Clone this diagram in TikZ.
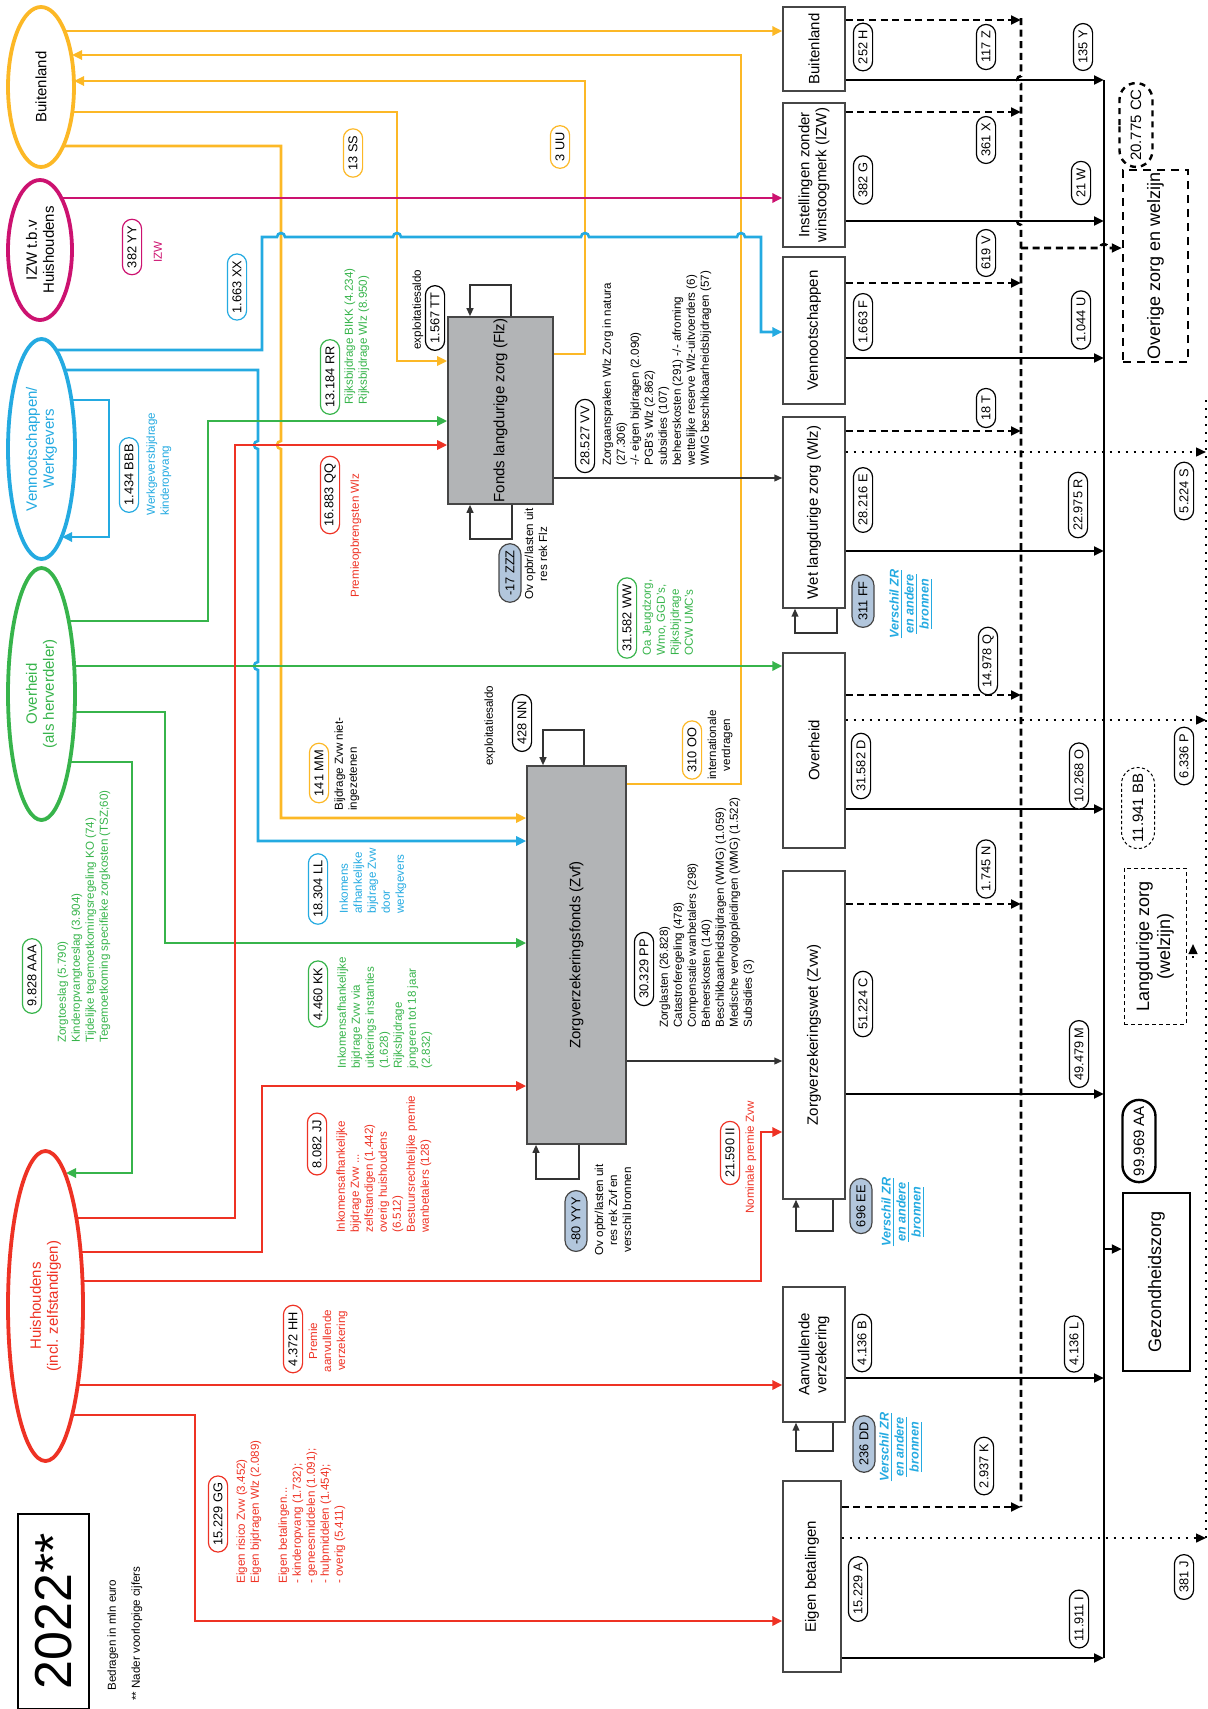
\documentclass[tikz,border=0pt]{standalone}
\usepackage{fontspec}
\setmainfont{Liberation Sans}
\usepackage{tikz}
\usetikzlibrary{arrows.meta,
	positioning,
	shapes.geometric,
	shapes.misc,
	backgrounds}

\definecolor{zOrange}{RGB}{252,184,38}
\definecolor{zMagenta}{RGB}{204,18,112}
\definecolor{zBlue}{RGB}{36,170,225}
\definecolor{zGreen}{RGB}{55,180,75}
\definecolor{zRed}{RGB}{238,50,36}
\definecolor{zGrey}{RGB}{178,180,182}
\definecolor{zPill}{RGB}{178,198,220}
\definecolor{zFrame}{RGB}{70,70,70}

\tikzset{
	every node/.style={font=\fontsize{5.8}{7}\selectfont},
	party/.style={ellipse, draw=#1, line width=1.9pt, fill=white, inner sep=0pt},
	fund/.style={draw=zFrame, fill=zGrey, line width=0.8pt, inner sep=0pt},
	sector/.style={draw=zFrame, fill=white, line width=0.7pt, inner sep=0pt},
	vlabel/.style={rotate=90, align=center, inner sep=0pt, font=\fontsize{7.5}{8.5}\selectfont},
	biglabel/.style={rotate=90, align=center, inner sep=0pt, font=\fontsize{9}{10.5}\selectfont},
	amount/.style={rounded rectangle, draw=#1, fill=white, rotate=90, line width=0.6pt,
		minimum height=9.6pt, inner xsep=2.8pt, inner ysep=0pt, font=\fontsize{6.4}{7}\selectfont},
	amount/.default=black,
	bigamount/.style={amount, minimum height=16.5pt, inner xsep=2.6pt, font=\fontsize{7.5}{9}\selectfont},
	diff/.style={amount, fill=zPill, draw=zFrame, minimum height=11pt},
	note/.style={rotate=90, anchor=north west, align=left, inner sep=0pt, text=#1},
	note/.default=black,
	cnote/.style={rotate=90, align=center, inner sep=0pt, text=#1},
	cnote/.default=black,
	zrlink/.style={rotate=90, align=center, inner sep=0pt, text=zBlue,
		font=\fontsize{6.3}{7.5}\selectfont\bfseries\itshape},
	flow/.style={draw=#1, line width=1.3pt, -{Triangle[length=5pt,width=4.6pt]}},
	thinflow/.style={draw=black!80, line width=0.8pt, -{Triangle[length=4pt,width=3.4pt]}},
	sumflow/.style={line width=1.3pt, -{Triangle[length=5pt,width=4.4pt]}},
	dashflow/.style={sumflow, dash pattern=on 3.5pt off 2.3pt},
	dotflow/.style={line width=1pt, dash pattern=on 0.9pt off 3.1pt, -{Triangle[length=5pt,width=4.4pt]}},
}

\begin{document}
\begin{tikzpicture}[x=0.5pt,y=-0.5pt]

	\useasboundingbox (0,0) rectangle (1208,1709);

	% partijen links
	\node[party=zOrange, minimum width=33pt, minimum height=80pt,
		label={[vlabel]center:Buitenland}] (buitL) at (41,87) {};
	\node[party=zMagenta, minimum width=32pt, minimum height=70pt,
		label={[vlabel]center:IZW t.b.v\\Huishoudens}] (izwL) at (40,250) {};
	\node[party=zBlue, minimum width=33.5pt, minimum height=110pt,
		label={[vlabel,text=zBlue]center:Vennootschappen/\\Werkgevers}] (venL) at (41.5,449) {};
	\node[party=zGreen, minimum width=33.5pt, minimum height=126pt,
		label={[vlabel,text=zGreen]center:Overheid\\(als herverdeler)}] (ovhL) at (41.5,694) {};
	\node[party=zRed, minimum width=37.5pt, minimum height=155pt,
		label={[vlabel,text=zRed]center:Huishoudens\\(incl. zelfstandigen)}] (huisL) at (45.5,1306) {};

	\coordinate (buitInA) at (72,55);
	\coordinate (buitInB) at (74,81);
	\coordinate (venIn) at (62,537);
	\coordinate (huisIn) at (66,1173);

	% fondsen
	\node[fund, minimum width=52.5pt, minimum height=93.5pt,
		label={[vlabel]center:Fonds langdurige zorg (Flz)}] (flz) at (500.5,410.5) {};
	\node[fund, minimum width=49.5pt, minimum height=189pt,
		label={[vlabel]center:Zorgverzekeringsfonds (Zvf)}] (zvf) at (576.5,955) {};

	% financieringsbronnen rechts
	\node[sector, minimum width=31pt, minimum height=42pt,
		label={[vlabel]center:Buitenland}] (rbuit) at (814,49) {};
	\node[sector, minimum width=31pt, minimum height=72pt,
		label={[vlabel]center:Instellingen zonder\\winstoogmerk (IZW)}] (rizw) at (814,175) {};
	\node[sector, minimum width=31pt, minimum height=73.5pt,
		label={[vlabel]center:Vennootschappen}] (rven) at (814,330.5) {};
	\node[sector, minimum width=31pt, minimum height=95.5pt,
		label={[vlabel]center:Wet langdurige zorg (Wlz)}] (rwlz) at (814,512.5) {};
	\node[sector, minimum width=31pt, minimum height=97.5pt,
		label={[vlabel]center:Overheid}] (rovh) at (814,750.5) {};
	\node[sector, minimum width=31pt, minimum height=164pt,
		label={[vlabel]center:Zorgverzekeringswet (Zvw)}] (rzvw) at (814,1035) {};
	\node[sector, minimum width=31pt, minimum height=67.5pt,
		label={[vlabel]center:Aanvullende\\verzekering}] (raanv) at (814,1354.5) {};
	\node[sector, minimum width=29pt, minimum height=95.5pt,
		label={[vlabel]center:Eigen betalingen}] (reig) at (812,1576.5) {};

	% functies
	\node[draw, line width=1.2pt, dash pattern=on 4pt off 3pt, minimum width=32.5pt, minimum height=96pt,
		inner sep=0pt, label={[biglabel]center:Overige zorg en welzijn}] (overig) at (1155.5,266) {};
	\node[draw, line width=0.5pt, dash pattern=on 2pt off 1.5pt, minimum width=31pt, minimum height=78pt,
		inner sep=0pt, label={[biglabel]center:Langdurige zorg\\(welzijn)}] (langz) at (1155,946) {};
	\node[draw, line width=1.2pt, minimum width=33.5pt, minimum height=89pt,
		inner sep=0pt, label={[biglabel]center:Gezondheidszorg}] (gezond) at (1156.5,1282) {};

	\coordinate (dTop) at (1021,18);
	\coordinate (dBot) at (1021,1507);
	\coordinate (sTop) at (1104,80);
	\coordinate (sBot) at (1104,1658);
	\coordinate (pTop) at (1206,400);
	\coordinate (pBot) at (1206,1538);

	\begin{pgfonlayer}{background}
		% Buitenland
		\draw[flow=zOrange] (buitL.center |- 0,31) -- (rbuit.west |- 0,31);
		\draw[flow=zOrange] (zvf.east |- 0,784) -- (741,784) -- (741,55) -- (buitInA);
		\draw[flow=zOrange] (flz.east |- 0,354) -- (585,354) -- (585,81) -- (buitInB);
		\draw[flow=zOrange] (buitL.center |- 0,112) -- (397,112) -- (397,361) -- (flz.west |- 0,361);
		\draw[flow=zOrange] (buitL.center |- 0,146) -- (281,146)
			-- (281,441) arc[start angle=90,end angle=270,radius=2pt]
			-- (281,818) -- (zvf.west |- 0,818);

		% IZW
		\draw[flow=zMagenta] (izwL.center |- 0,198) -- (rizw.west |- 0,198);

		% Vennootschappen/Werkgevers
		\draw[flow=zBlue] (venL.center |- 0,350) -- (262,350) -- (262,237)
			-- (277,237) arc[start angle=180,end angle=0,radius=2pt]
			-- (393,237) arc[start angle=180,end angle=0,radius=2pt]
			-- (581,237) arc[start angle=180,end angle=0,radius=2pt]
			-- (737,237) arc[start angle=180,end angle=0,radius=2pt]
			-- (761,237) -- (761,332) -- (rven.west |- 0,332);
		\draw[flow=zBlue] (venL.center |- 0,370) -- (258,370)
			-- (258,441) arc[start angle=90,end angle=270,radius=2pt]
			-- (258,662) arc[start angle=90,end angle=270,radius=2pt]
			-- (258,841) -- (zvf.west |- 0,841);
		\draw[flow=zBlue] (venL.center |- 0,400) -- (109,400) -- (109,537) -- (venIn);

		% Overheid
		\draw[flow=zGreen] (ovhL.center |- 0,621) -- (208,621) -- (208,421) -- (flz.west |- 0,421);
		\draw[flow=zGreen] (ovhL.center |- 0,666) -- (rovh.west |- 0,666);
		\draw[flow=zGreen] (ovhL.center |- 0,712) -- (165,712) -- (165,943) -- (zvf.west |- 0,943);
		\draw[flow=zGreen] (ovhL.center |- 0,762) -- (132,762) -- (132,1173) -- (huisIn);

		% Huishoudens
		\draw[flow=zRed] (huisL.center |- 0,1218) -- (235,1218) -- (235,445) -- (flz.west |- 0,445);
		\draw[flow=zRed] (huisL.center |- 0,1252) -- (262,1252) -- (262,1086) -- (zvf.west |- 0,1086);
		\draw[flow=zRed] (huisL.center |- 0,1281) -- (761,1281) -- (761,1132) -- (rzvw.west |- 0,1132);
		\draw[flow=zRed] (huisL.center |- 0,1385) -- (raanv.west |- 0,1385);
		\draw[flow=zRed] (huisL.center |- 0,1415) -- (195,1415) -- (195,1621) -- (reig.west |- 0,1621);
	\end{pgfonlayer}

	% fondsen naar Wlz en Zvw
	\draw[thinflow] (flz.east |- 0,478) -- (rwlz.west |- 0,478);
	\draw[thinflow] (zvf.east |- 0,1061) -- (rzvw.west |- 0,1061);
	\draw[thinflow] (flz.north -| 511,0) -- (511,285) -- (470,285) -- (flz.north -| 470,0);
	\draw[thinflow] (flz.south -| 512,0) -- (512,539) -- (470,539) -- (flz.south -| 470,0);
	\draw[thinflow] (zvf.north -| 584,0) -- (584,730) -- (543,730) -- (zvf.north -| 543,0);
	\draw[thinflow] (zvf.south -| 579,0) -- (579,1179) -- (536,1179) -- (zvf.south -| 536,0);
	\draw[thinflow] (rwlz.south -| 837,0) -- (837,633) -- (795,633) -- (rwlz.south -| 795,0);
	\draw[thinflow] (rzvw.south -| 833,0) -- (833,1231) -- (796,1231) -- (rzvw.south -| 796,0);
	\draw[thinflow] (raanv.south -| 833,0) -- (833,1451) -- (796,1451) -- (raanv.south -| 796,0);

	% verzamellijnen
	\draw[line width=1.3pt, dash pattern=on 3.5pt off 2.3pt] (dTop)
		-- (1021,76) arc[start angle=90,end angle=270,radius=2pt]
		-- (1021,217) arc[start angle=90,end angle=270,radius=2pt] -- (dBot);
	\draw[line width=1.3pt] (sTop) -- (sBot);
	\draw[line width=1pt, dash pattern=on 0.9pt off 3.1pt] (pTop) -- (pBot);

	\draw[dashflow] (rbuit.east |- 0,20) -- (dTop |- 0,20);
	\draw[dashflow] (rizw.east |- 0,112) -- (dTop |- 0,112);
	\draw[dashflow] (rven.east |- 0,283) -- (dTop |- 0,283);
	\draw[dashflow] (rwlz.east |- 0,431) -- (dTop |- 0,431);
	\draw[dashflow] (rovh.east |- 0,695) -- (dTop |- 0,695);
	\draw[dashflow] (rzvw.east |- 0,904) -- (dTop |- 0,904);
	\draw[dashflow] (reig.east |- 0,1507) -- (dTop |- 0,1507);
	\draw[dashflow] (dTop |- 0,248) -- (1100,248) arc[start angle=180,end angle=0,radius=2pt]
		-- (overig.west |- 0,248);

	\draw[sumflow] (rbuit.east |- 0,80) -- (sTop |- 0,80);
	\draw[sumflow] (rizw.east |- 0,221) -- (sTop |- 0,221);
	\draw[sumflow] (rven.east |- 0,358) -- (sTop |- 0,358);
	\draw[sumflow] (rwlz.east |- 0,551) -- (sTop |- 0,551);
	\draw[sumflow] (rovh.east |- 0,809) -- (sTop |- 0,809);
	\draw[sumflow] (rzvw.east |- 0,1094) -- (sTop |- 0,1094);
	\draw[sumflow] (raanv.east |- 0,1378) -- (sTop |- 0,1378);
	\draw[sumflow] (reig.east |- 0,1658) -- (sTop |- 0,1658);
	\draw[sumflow] (sTop |- 0,1249) -- (gezond.west |- 0,1249);

	\draw[dotflow] (rwlz.east |- 0,452) -- (pTop |- 0,452);
	\draw[dotflow] (rovh.east |- 0,720) -- (pTop |- 0,720);
	\draw[dotflow] (reig.east |- 0,1538) -- (pTop |- 0,1538);
	\draw[dotflow] (1193,958) -- (1193,944);

	% bedragen rechts
	\node[amount] (aH) at (863,47) {252 H};
	\node[amount] (aG) at (863,180) {382 G};
	\node[amount] (aF) at (863,322) {1.663 F};
	\node[amount] (aE) at (863,500) {28.216 E};
	\node[diff] (aFF) at (863,601) {311 FF};
	\node[amount] (aD) at (861,766) {31.582 D};
	\node[amount] (aC) at (863,1004) {51.224 C};
	\node[diff] (aEE) at (861,1206) {696 EE};
	\node[amount] (aB) at (862,1343) {4.136 B};
	\node[diff] (aDD) at (864,1444) {236 DD};
	\node[amount] (aA) at (858,1589) {15.229 A};

	\node[zrlink] (zrA) at (911,604) {\underline{Verschil ZR}\\\underline{en andere}\\\underline{bronnen}};
	\node[zrlink] (zrB) at (903,1212) {\underline{Verschil ZR}\\\underline{en andere}\\\underline{bronnen}};
	\node[zrlink] (zrC) at (901,1447) {\underline{Verschil ZR}\\\underline{en andere}\\\underline{bronnen}};

	\node[amount] (aZ) at (986,47) {117 Z};
	\node[amount] (aX) at (986,140) {361 X};
	\node[amount] (aV) at (986,253) {619 V};
	\node[amount] (aT) at (986,408) {18 T};
	\node[amount] (aQ) at (988,661) {14.978 Q};
	\node[amount] (aN) at (986,869) {1.745 N};
	\node[amount] (aK) at (984,1466) {2.937 K};

	\node[amount] (aY) at (1083,47) {135 Y};
	\node[amount] (aW) at (1081,183) {21 W};
	\node[amount] (aU) at (1081,320) {1.044 U};
	\node[amount] (aR) at (1078,505) {22.975 R};
	\node[amount] (aO) at (1079,776) {10.268 O};
	\node[amount] (aM) at (1079,1054) {49.479 M};
	\node[amount] (aL) at (1074,1344) {4.136 L};
	\node[amount] (aI) at (1079,1619) {11.911 I};

	\node[amount] (aS) at (1184,491) {5.224 S};
	\node[amount] (aP) at (1184,756) {6.336 P};
	\node[amount] (aJ) at (1184,1577) {381 J};

	\node[bigamount, line width=1.2pt, dash pattern=on 3pt off 2.5pt] (aCC) at (1136,125) {20.775 CC};
	\node[bigamount, line width=0.5pt, dash pattern=on 1.5pt off 1.2pt] (aBB) at (1138,808) {11.941 BB};
	\node[bigamount, line width=1.2pt] (aAA) at (1139,1141) {99.969 AA};

	% bedragen links en midden
	\node[amount=zMagenta] (aYY) at (132,247) {382 YY};
	\node[cnote=zMagenta] (tYY) at (158,252) {IZW};
	\node[amount=zBlue] (aXX) at (237,287) {1.663 XX};
	\node[amount=zOrange] (aSS) at (353,153) {13 SS};
	\node[amount=zOrange] (aUU) at (560,147) {3 UU};

	\node[note] (tTT) at (412,350) {exploitatiesaldo};
	\node[amount] (aTT) at (435,318) {1.567 TT};

	\node[amount=zGreen] (aRR) at (330,377) {13.184 RR};
	\node[note=zGreen] (tRR) at (344,405) {Rijksbijdrage BIKK (4.234)\\Rijksbijdrage Wlz (8.950)};

	\node[amount=zBlue] (aBBB) at (129,475) {1.434 BBB};
	\node[note=zBlue] (tBBB) at (146,516) {Werkgeversbijdrage\\kinderopvang};

	\node[amount=zRed] (aQQ) at (330,495) {16.883 QQ};
	\node[note=zRed] (tQQ) at (350,598) {Premieopbrengsten Wlz};

	\node[amount] (aVV) at (585,436) {28.527 VV};
	\node[note] (tVV) at (602,466) {Zorgaanspraken Wlz Zorg in natura\\(27.306)\\-/- eigen bijdragen (2.090)\\PGB's Wlz (2.862)\\subsidies (107)\\beheerskosten (291) -/- afroming\\wettelijke reserve Wlz-uitvoerders (6)\\WMG beschikbaarheidsbijdragen (57)};

	\node[diff] (aZZZ) at (510,573) {-17 ZZZ};
	\node[cnote] (tZZZ) at (536,554) {Ov opbr/lasten uit\\res rek Flz};

	\node[amount=zGreen] (aWW) at (627,618) {31.582 WW};
	\node[note=zGreen] (tWW) at (642,656) {Oa Jeugdzorg,\\Wmo, GGD's,\\Rijksbijdrage\\OCW UMC's};

	\node[note] (tNN) at (484,766) {exploitatiesaldo};
	\node[amount] (aNN) at (522,723) {428 NN};

	\node[amount=zOrange] (aOO) at (692,750) {310 OO};
	\node[cnote] (tOO) at (720,745) {internationale\\verdragen};

	\node[amount=zOrange] (aMM) at (319,773) {141 MM};
	\node[note] (tMM) at (334,811) {Bijdrage Zvw niet-\\ingezetenen};

	\node[amount=zBlue] (aLL) at (318,889) {18.304 LL};
	\node[note=zBlue] (tLL) at (339,914) {Inkomens\\afhankelijke\\bijdrage Zvw\\door\\werkgevers};

	\node[amount] (aPP) at (644,969) {30.329 PP};
	\node[note] (tPP) at (659,1028) {Zorglasten (26.828)\\Catastroferegeling (478)\\Compensatie wanbetalers (298)\\Beheerskosten (140)\\Beschikbaarheidsbijdragen (WMG) (1.059)\\Medische vervolgopleidingen (WMG) (1.522)\\Subsidies (3)};

	\node[amount=zGreen] (aAAA) at (32,976) {9.828 AAA};
	\node[note=zGreen] (tAAA) at (57,1043) {Zorgtoeslag (5.790)\\Kinderopvangtoeslag (3.904)\\Tijdelijke tegemoetkomingsregeling KO (74)\\Tegemoetkoming specifieke zorgkosten (TSZ;60)};

	\node[amount=zGreen] (aKK) at (318,994) {4.460 KK};
	\node[note=zGreen] (tKK) at (337,1069) {Inkomensafhankelijke\\bijdrage Zvw via\\uitkerings instanties\\(1.628)\\Rijksbijdrage\\jongeren tot 18 jaar\\(2.832)};

	\node[amount=zRed] (aJJ) at (317,1144) {8.082 JJ};
	\node[note=zRed] (tJJ) at (336,1233) {Inkomensafhankelijke\\bijdrage Zvw ...\\zelfstandigen (1.442)\\overig huishoudens\\(6.512)\\Bestuursrechtelijke premie\\wanbetalers (128)};

	\node[amount=zRed] (aII) at (730,1153) {21.590 II};
	\node[note=zRed] (tII) at (745,1214) {Nominale premie Zvw};

	\node[diff] (aYYY) at (576,1221) {-80 YYY};
	\node[cnote] (tYYY) at (613,1210) {Ov opbr/lasten uit\\res rek Zvf en\\verschil bronnen};

	\node[amount=zRed] (aHH) at (293,1339) {4.372 HH};
	\node[cnote=zRed] (tHH) at (328,1341) {Premie\\aanvullende\\verzekering};

	\node[amount=zRed] (aGG) at (218,1514) {15.229 GG};
	\node[note=zRed] (tGG) at (236,1584) {Eigen risico Zvw (3.452)\\Eigen bijdragen Wlz (2.089)\\[7pt]Eigen betalingen...\\- kinderopvang (1.732);\\- geneesmiddelen (1.091);\\- hulpmiddelen (1.454);\\- overig (5.411)};

	% jaar en toelichting
	\node[draw, line width=0.6pt, minimum width=35.5pt, minimum height=97.5pt, inner sep=0pt,
		label={[rotate=90, inner sep=0pt, font=\fontsize{26}{30}\selectfont]center:2022**}] (year) at (53.5,1611.5) {};
	\node[note] (tUnit) at (107,1691) {Bedragen in mln euro};
	\node[note] (tPrel) at (131,1701) {** Nader voorlopige cijfers};

\end{tikzpicture}
\end{document}
